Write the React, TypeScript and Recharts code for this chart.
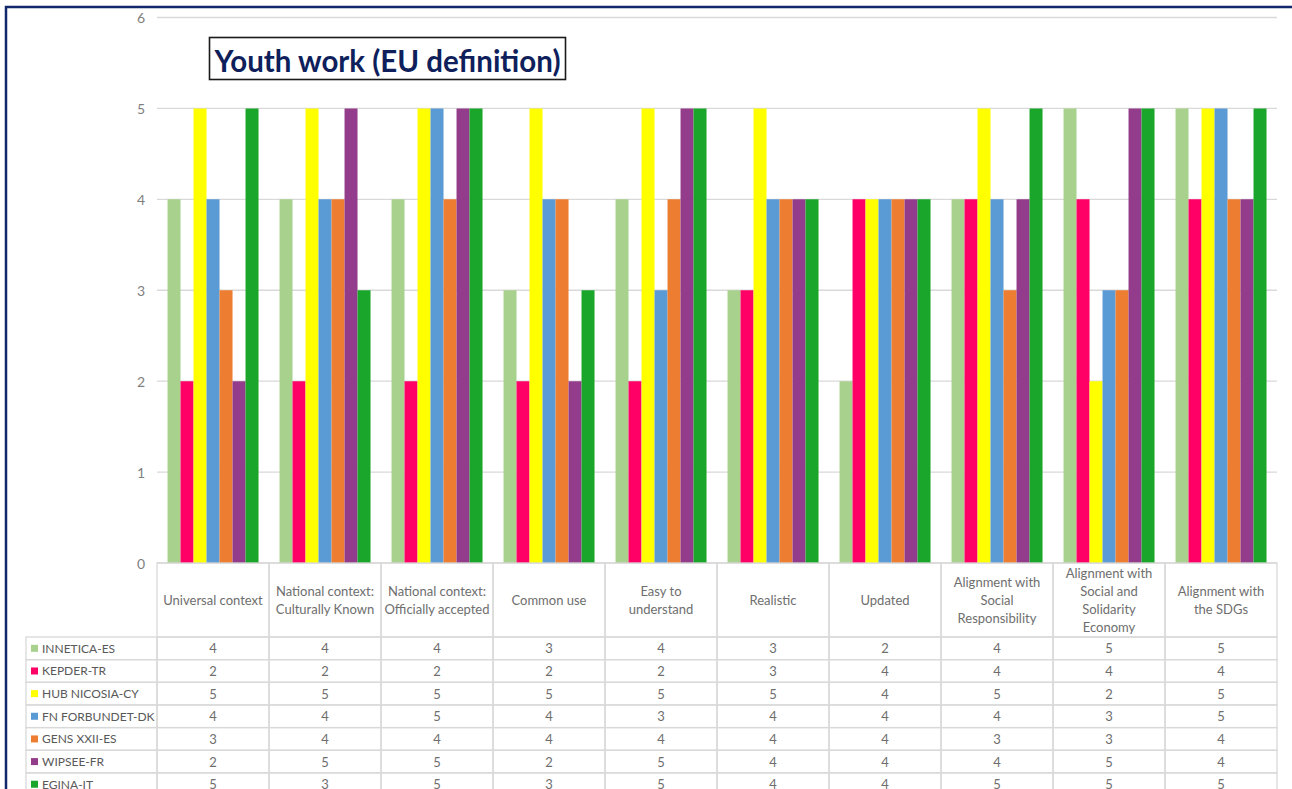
import React from "react";
import { BarChart, Bar, XAxis, YAxis, CartesianGrid } from "recharts";

const chartTitle = "Youth work (EU definition)";

const categories = [
  "Universal context",
  "National context: Culturally Known",
  "National context: Officially accepted",
  "Common use",
  "Easy to understand",
  "Realistic",
  "Updated",
  "Alignment with Social Responsibility",
  "Alignment with Social and Solidarity Economy",
  "Alignment with the SDGs",
];

const categoryLabelLines = [
  ["Universal context"],
  ["National context:", "Culturally Known"],
  ["National context:", "Officially accepted"],
  ["Common use"],
  ["Easy to", "understand"],
  ["Realistic"],
  ["Updated"],
  ["Alignment with", "Social", "Responsibility"],
  ["Alignment with", "Social and", "Solidarity", "Economy"],
  ["Alignment with", "the SDGs"],
];

const seriesNames = [
  "INNETICA-ES",
  "KEPDER-TR",
  "HUB NICOSIA-CY",
  "FN FORBUNDET-DK",
  "GENS XXII-ES",
  "WIPSEE-FR",
  "EGINA-IT",
];

const seriesColors = ["#A9D18E", "#FF0066", "#FFFF00", "#5B9BD5", "#ED7D31", "#933C8C", "#1AA62B"];

const innetica = [4, 4, 4, 3, 4, 3, 2, 4, 5, 5];
const kepder = [2, 2, 2, 2, 2, 3, 4, 4, 4, 4];
const hubNicosia = [5, 5, 5, 5, 5, 5, 4, 5, 2, 5];
const fnForbundet = [4, 4, 5, 4, 3, 4, 4, 4, 3, 5];
const gensXXII = [3, 4, 4, 4, 4, 4, 4, 3, 3, 4];
const wipsee = [2, 5, 5, 2, 5, 4, 4, 4, 5, 4];
const egina = [5, 3, 5, 3, 5, 4, 4, 5, 5, 5];

const seriesValues = [innetica, kepder, hubNicosia, fnForbundet, gensXXII, wipsee, egina];

const yTicks = [0, 1, 2, 3, 4, 5, 6];

const data = categories.map((category, i) => {
  const row: Record<string, string | number> = { category };
  seriesValues.forEach((vals, s) => {
    row["s" + s] = vals[i];
  });
  return row;
});

// layout
const W = 1292;
const H = 789;
const PLOT_LEFT = 157;
const PLOT_RIGHT = 1277;
const PLOT_TOP = 17.5;
const AXIS_Y = 563;
const HEADER_H = 74;
const ROW_H = 22.65;
const BAND = (PLOT_RIGHT - PLOT_LEFT) / categories.length;
const FONT = "Lato, 'Open Sans', sans-serif";
const GRID = "#D9D9D9";
const TEXT = "#6E6E6E";

const YTick = (props: any) => {
  const { y, payload } = props;
  return (
    <text x={145} y={y} textAnchor="end" dominantBaseline="central" fontFamily={FONT} fontSize={14} fill="#7F7F7F">
      {payload.value}
    </text>
  );
};

const TableColumn = (props: any) => {
  const { x, payload } = props;
  const i = categories.indexOf(payload.value);
  const left = x - BAND / 2;
  const lines = categoryLabelLines[i] || [payload.value];
  const lh = 17.7;
  const cy = AXIS_Y + HEADER_H / 2;
  return (
    <g>
      <rect x={left} y={AXIS_Y} width={BAND} height={HEADER_H} fill="none" stroke={GRID} strokeWidth={1.3} />
      {lines.map((ln, k) => (
        <text
          key={k}
          x={x}
          y={cy - ((lines.length - 1) * lh) / 2 + k * lh}
          textAnchor="middle"
          dominantBaseline="central"
          fontFamily={FONT}
          fontSize={13}
          fill={TEXT}
        >
          {ln}
        </text>
      ))}
      {seriesValues.map((vals, s) => {
        const ry = AXIS_Y + HEADER_H + s * ROW_H;
        return (
          <g key={s}>
            <rect x={left} y={ry} width={BAND} height={ROW_H} fill="none" stroke={GRID} strokeWidth={1.3} />
            <text
              x={x}
              y={ry + ROW_H / 2}
              textAnchor="middle"
              dominantBaseline="central"
              fontFamily={FONT}
              fontSize={13}
              fill={TEXT}
            >
              {vals[i]}
            </text>
          </g>
        );
      })}
    </g>
  );
};

export default function App() {
  return (
    <div style={{ position: "absolute", left: 0, top: 0, width: W, height: H, background: "#fff", overflow: "hidden" }}>
      <BarChart
        width={W}
        height={H}
        data={data}
        margin={{ top: PLOT_TOP, right: W - PLOT_RIGHT, left: 0, bottom: 0 }}
        barCategoryGap="9.4%"
        barGap={0}
      >
        <CartesianGrid vertical={false} stroke={GRID} strokeWidth={1.3} />
        <YAxis
          width={PLOT_LEFT}
          domain={[0, 6]}
          ticks={yTicks}
          axisLine={false}
          tickLine={false}
          tick={<YTick />}
          interval={0}
        />
        <XAxis
          dataKey="category"
          height={H - AXIS_Y}
          axisLine={false}
          tickLine={false}
          tickSize={0}
          tickMargin={0}
          interval={0}
          tick={<TableColumn />}
        />
        {seriesNames.map((name, s) => (
          <Bar key={name} dataKey={"s" + s} name={name} fill={seriesColors[s]} isAnimationActive={false} />
        ))}
      </BarChart>
      <svg
        width={W}
        height={H}
        style={{ position: "absolute", left: 0, top: 0, pointerEvents: "none" }}
      >
        <rect x={6} y={7} width={1400} height={1000} fill="none" stroke="#13276B" strokeWidth={2.5} />
        <rect x={209.5} y={37.5} width={356} height={42} fill="#fff" stroke="#1a1a1a" strokeWidth={1.6} />
        <text
          x={387.5}
          y={60}
          textAnchor="middle"
          dominantBaseline="central"
          fontFamily={FONT}
          fontWeight={700}
          fontSize={30}
          fill="#0F1F5C"
          textLength={346}
          lengthAdjust="spacingAndGlyphs"
        >
          {chartTitle}
        </text>
        {seriesNames.map((name, s) => {
          const ry = AXIS_Y + HEADER_H + s * ROW_H;
          return (
            <g key={name}>
              <rect x={26} y={ry} width={PLOT_LEFT - 26} height={ROW_H} fill="none" stroke={GRID} strokeWidth={1.3} />
              <rect x={31} y={ry + ROW_H / 2 - 3.5} width={7} height={7} fill={seriesColors[s]} />
              <text
                x={42}
                y={ry + ROW_H / 2}
                dominantBaseline="central"
                fontFamily={FONT}
                fontSize={12}
                fill="#595959"
              >
                {name}
              </text>
            </g>
          );
        })}
      </svg>
    </div>
  );
}
